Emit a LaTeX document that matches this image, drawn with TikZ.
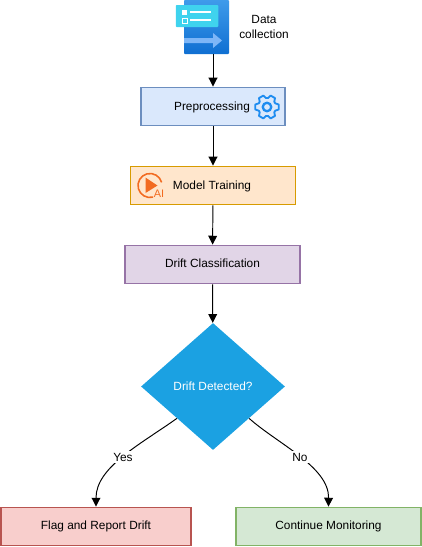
\documentclass[tikz,border=0pt]{standalone}
\usepackage{fontspec}
\setmainfont{Liberation Sans}
\usetikzlibrary{positioning, arrows.meta, shapes.geometric, calc}
\definecolor{prefill}{HTML}{DAE8FC}
\definecolor{preline}{HTML}{6C8EBF}
\definecolor{trainfill}{HTML}{FFE6CC}
\definecolor{trainline}{HTML}{D79B00}
\definecolor{classfill}{HTML}{E1D5E7}
\definecolor{classline}{HTML}{9673A6}
\definecolor{flagfill}{HTML}{F8CECC}
\definecolor{flagline}{HTML}{B85450}
\definecolor{contfill}{HTML}{D5E8D4}
\definecolor{contline}{HTML}{82B366}
\definecolor{decidefill}{HTML}{1BA1E2}
\definecolor{gearblue}{HTML}{1E8CF0}
\definecolor{aiorange}{HTML}{F26B21}
\definecolor{icontop}{HTML}{3F9BEA}
\definecolor{iconbottom}{HTML}{0F6FD2}
\definecolor{iconarrow}{HTML}{7DB6F7}
\definecolor{cardfill}{HTML}{3FD3EE}
\tikzset{
  flowbox/.style={draw, line width=1.1pt, minimum height=0.76cm, inner sep=0pt, text height=5pt, text depth=1.3pt},
  flowline/.style={-{Triangle[length=5pt,width=5pt]}, line width=0.55pt, black},
  edgetag/.style={fill=white, inner sep=1pt}
}
\begin{document}
\begin{tikzpicture}[font=\fontsize{6.75}{8.2}\selectfont, >=Stealth]
  \useasboundingbox (0,0) rectangle (8.44,-10.94);
  % Data collection icon
  \node[minimum width=0.9cm, minimum height=1.08cm, inner sep=0pt, top color=icontop, bottom color=iconbottom,
        rounded corners=0.5pt] (data) at (4.13,-0.54) {};
  \fill[iconarrow] (3.68,-0.76) -- (4.26,-0.76) -- (4.26,-0.66) -- (4.44,-0.81) -- (4.26,-0.96) -- (4.26,-0.86) -- (3.68,-0.86) -- cycle;
  \node[minimum width=0.85cm, minimum height=0.44cm, inner sep=0pt, fill=cardfill, rounded corners=0.5pt] (card) at (3.94,-0.32) {};
  \fill[white] (3.64,-0.2) rectangle (3.74,-0.3);
  \draw[white, line width=0.3pt] (3.64,-0.36) rectangle (3.74,-0.46);
  \draw[white, line width=0.6pt] (3.8,-0.24) -- (4.22,-0.24);
  \draw[white, line width=0.6pt] (3.8,-0.4) -- (4.22,-0.4);
  \node[align=center] (datatext) at (5.28,-0.54) {Data\\collection};
  % Boxes
  \node[flowbox, fill=prefill, draw=preline, minimum width=2.88cm] (pre) at (4.26,-2.13) {};
  \node[anchor=center] (pretext) at (4.24,-2.14) {Preprocessing};
  \node[flowbox, fill=trainfill, draw=trainline, minimum width=3.3cm] (train) at (4.26,-3.71) {};
  \node (traintext) at (4.24,-3.72) {Model Training};
  \node[flowbox, fill=classfill, draw=classline, minimum width=3.5cm] (class) at (4.25,-5.29) {Drift Classification};
  \node[diamond, aspect=1.13, fill=decidefill, text=white, inner sep=0pt, minimum width=2.88cm, minimum height=2.54cm] (decide) at (4.26,-7.73) {Drift Detected?};
  \node[flowbox, fill=flagfill, draw=flagline, minimum width=3.8cm] (flag) at (1.92,-10.53) {Flag and Report Drift};
  \node[flowbox, fill=contfill, draw=contline, minimum width=3.7cm] (cont) at (6.57,-10.53) {Continue Monitoring};
  % Gear
  \begin{scope}[shift={(5.34,-2.14)}]
    \draw[gearblue, line width=1.05pt, line join=round] (-12:0.24)
      \foreach \a in {0,60,...,300}{
        -- (\a-12:0.24) -- (\a+12:0.24) -- (\a+24:0.18) -- (\a+36:0.18)
      } -- cycle;
    \draw[gearblue, line width=1.3pt] (0,0) circle (0.085);
  \end{scope}
  % AI icon
  \draw[aiorange, line width=0.9pt] (3.0,-3.71) ++(15:0.24) arc (15:285:0.24);
  \fill[aiorange] (2.91,-3.55) -- (3.15,-3.71) -- (2.91,-3.86) -- cycle;
  \node[aiorange, font=\fontsize{6.2}{7}\selectfont, inner sep=0pt] (aitext) at (3.18,-3.88) {AI};
  % Arrows
  \draw[flowline] (data.south -| pre.north) -- (pre.north);
  \draw[flowline] (pre) -- (train);
  \draw[flowline] (train) -- (class);
  \draw[flowline] (class) -- (decide);
  \draw[flowline] (decide.south west) .. controls (2.82,-8.88) and (1.92,-9.34) .. (flag.north) node[pos=0.5, edgetag] (yes) {Yes};
  \draw[flowline] (decide.south east) .. controls (5.56,-8.88) and (6.58,-9.34) .. (cont.north) node[pos=0.5, edgetag] (no) {No};
\end{tikzpicture}
\end{document}
